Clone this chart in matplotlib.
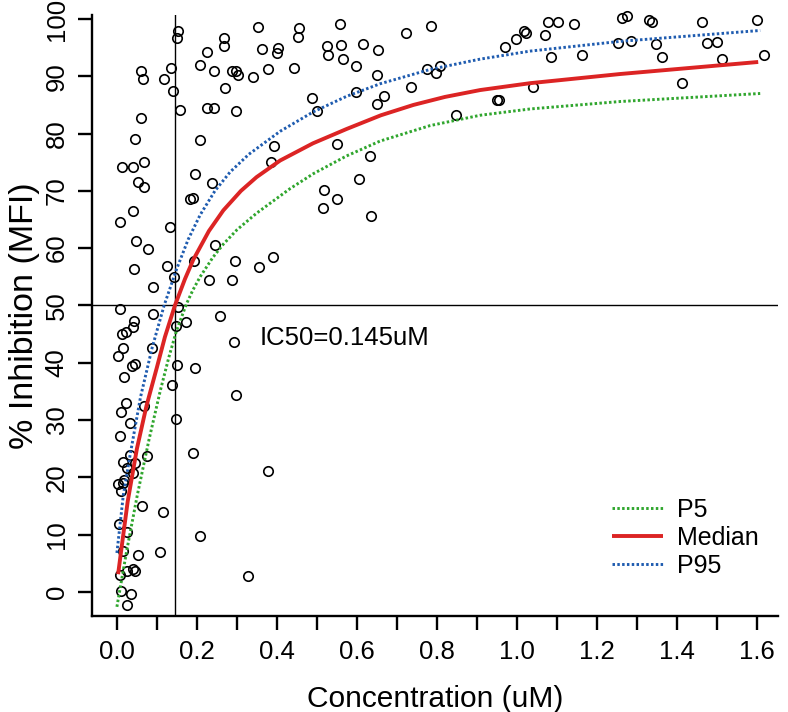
import matplotlib
matplotlib.use("Agg")
import matplotlib.pyplot as plt
from matplotlib.ticker import FixedLocator

plt.rcParams['font.family'] = ['Liberation Sans', 'DejaVu Sans']

# ---------------- data ----------------
conc = [0.153, 0.151, 0.352, 0.267, 0.267, 0.224, 0.363, 0.403, 0.400, 0.061,
        0.066, 0.136, 0.117, 0.207, 0.243, 0.287, 0.297, 0.303, 0.339, 0.378,
        0.139, 0.269, 0.061, 0.157, 0.224, 0.243, 0.297, 0.044, 0.207, 0.392,
        0.012, 0.041, 0.067, 0.385, 0.053, 0.067, 0.194, 0.237, 0.182, 0.190,
        0.041, 0.008, 0.132, 0.047, 0.078, 0.244, 0.192, 0.043, 0.124, 0.294,
        0.390, 0.355, 0.143, 0.230, 0.287, 0.091, 0.008, 0.089, 0.153, 0.258,
        0.043, 0.012, 0.023, 0.041, 0.173, 0.148, 0.293, 0.016, 0.003, 0.088,
        0.037, 0.045, 0.149, 0.194, 0.018, 0.138, 0.297, 0.022, 0.011, 0.068,
        0.032, 0.148, 0.008, 0.033, 0.075, 0.016, 0.045, 0.024, 0.039, 0.190,
        0.378, 0.003, 0.016, 0.010, 0.018, 0.063, 0.114, 0.004, 0.024, 0.208,
        0.016, 0.052, 0.108, 0.008, 0.024, 0.041, 0.045, 0.328, 0.009, 0.034,
        0.026,
        0.455, 0.453, 0.558, 0.526, 0.528, 0.560, 0.566, 0.616, 0.653, 0.443,
        0.598, 0.651, 0.723, 0.784, 0.488, 0.501, 0.597, 0.667, 0.651, 0.734,
        0.774, 0.797, 0.808, 0.847, 0.950, 0.954, 0.970, 0.998, 1.017, 1.022,
        0.551, 0.633, 0.518, 0.551, 0.606, 0.515, 0.635,
        1.078, 1.103, 1.143, 1.070, 1.084, 1.162, 1.041, 1.263, 1.276, 1.252,
        1.285, 1.331, 1.338, 1.348, 1.363, 1.413, 1.463, 1.474, 1.499, 1.513,
        1.599, 1.617]
inhib = [97.9, 96.6, 98.6, 96.6, 95.3, 94.3, 94.7, 94.9, 94.0, 91.0,
         89.5, 91.5, 89.6, 92.0, 91.0, 91.0, 91.0, 90.3, 89.8, 91.2,
         87.5, 88.0, 82.8, 84.2, 84.4, 84.4, 83.9, 79.0, 78.8, 77.9,
         74.1, 74.2, 75.0, 75.0, 71.6, 70.7, 73.0, 71.3, 68.6, 68.8,
         66.5, 64.6, 63.7, 61.3, 59.9, 60.6, 57.8, 56.4, 56.9, 57.8,
         58.5, 56.8, 55.0, 54.5, 54.5, 53.2, 49.4, 48.5, 49.7, 48.2,
         47.3, 45.1, 45.4, 46.2, 47.1, 46.5, 43.6, 42.5, 41.2, 42.6,
         39.5, 39.8, 39.6, 39.0, 37.6, 36.1, 34.3, 32.9, 31.4, 32.4,
         29.4, 30.1, 27.3, 23.9, 23.7, 22.7, 22.5, 21.6, 20.7, 24.2,
         21.1, 18.8, 19.1, 17.7, 19.5, 15.0, 13.9, 11.8, 10.4, 9.7,
         7.2, 6.5, 6.9, 3.0, 3.7, 4.0, 3.7, 2.8, 0.2, -0.3,
         -2.2,
         98.4, 96.9, 99.2, 95.3, 93.7, 95.5, 93.0, 95.6, 94.6, 91.4,
         91.8, 90.3, 97.5, 98.8, 86.3, 84.0, 87.2, 86.6, 85.1, 88.1,
         91.2, 90.6, 91.8, 83.2, 85.9, 85.9, 95.2, 96.5, 97.9, 97.5,
         78.1, 76.1, 70.2, 68.6, 72.1, 67.1, 65.7,
         99.4, 99.4, 99.2, 97.2, 93.4, 93.8, 88.2, 100.1, 100.5, 95.9,
         96.2, 99.8, 99.4, 95.6, 93.4, 88.8, 99.4, 95.8, 96.0, 93.0,
         99.8, 93.7]

median_x = [0.003, 0.015, 0.027, 0.050, 0.074, 0.100, 0.120, 0.145, 0.170, 0.191,
            0.230, 0.266, 0.310, 0.349, 0.408, 0.490, 0.574, 0.660, 0.741, 0.820,
            0.908, 1.033, 1.258, 1.603]
median_y = [3.1, 9.5, 15.8, 25.0, 32.5, 39.2, 44.5, 50.0, 54.6, 58.0,
            63.0, 66.6, 70.0, 72.4, 75.3, 78.3, 80.8, 83.2, 85.0, 86.4,
            87.6, 88.8, 90.4, 92.5]

p95_x = [0.000, 0.016, 0.033, 0.059, 0.088, 0.118, 0.149, 0.178, 0.208, 0.245,
         0.283, 0.330, 0.408, 0.491, 0.574, 0.658, 0.783, 0.908, 1.033, 1.258,
         1.608]
p95_y = [6.8, 16.9, 23.9, 34.0, 42.6, 50.0, 56.3, 61.5, 65.8, 70.0,
         73.3, 76.4, 80.4, 83.8, 86.5, 88.7, 91.2, 93.0, 94.4, 96.1,
         98.0]

p5_x = [0.000, 0.024, 0.051, 0.080, 0.108, 0.130, 0.149, 0.174, 0.190, 0.208,
        0.240, 0.266, 0.300, 0.349, 0.433, 0.491, 0.574, 0.658, 0.783, 0.908,
        1.033, 1.258, 1.608]
p5_y = [-2.6, 7.0, 16.9, 26.5, 35.0, 41.0, 45.6, 50.3, 52.7, 55.0,
        58.4, 60.7, 63.2, 66.1, 70.4, 73.0, 76.1, 78.7, 81.4, 83.2,
        84.3, 85.6, 87.0]

ic50 = 0.145
half = 50
x_ticks = [0.0, 0.2, 0.4, 0.6, 0.8, 1.0, 1.2, 1.4, 1.6]
x_tick_labels = ["0.0", "0.2", "0.4", "0.6", "0.8", "1.0", "1.2", "1.4", "1.6"]
x_minor = [0.1, 0.3, 0.5, 0.7, 0.9, 1.1, 1.3, 1.5]
y_ticks = [0, 10, 20, 30, 40, 50, 60, 70, 80, 90, 100]
series_names = ["P5", "Median", "P95"]

# ---------------- figure ----------------
W, H = 788, 712
fig = plt.figure(figsize=(W / 100, H / 100), dpi=100)
L, R, T, B = 91.7, 778, 15, 616
ax = fig.add_axes([L / W, (H - B) / H, (R - L) / W, (B - T) / H])

ax.set_xlim(-0.063, 1.6525)
ax.set_ylim(-4.2, 100.7)

RED = "#DC2424"
GREEN = "#30A62E"
BLUE = "#1F5CB0"
dot = (0, (0.85, 0.8))

ax.axhline(half, color="black", lw=1.0, zorder=1)
ax.axvline(ic50, color="black", lw=1.0, zorder=1)

ax.plot(conc, inhib, linestyle="none", marker="o", ms=6.8, mfc="none",
        mec="black", mew=1.2, clip_on=False, zorder=3)

l5, = ax.plot(p5_x, p5_y, color=GREEN, lw=2.1, linestyle=dot, zorder=4)
lm, = ax.plot(median_x, median_y, color=RED, lw=2.8, zorder=4,
              solid_capstyle="butt", solid_joinstyle="round")
l95, = ax.plot(p95_x, p95_y, color=BLUE, lw=2.1, linestyle=dot, zorder=4)

ax.text(0.3575, 43.1, "IC50=0.145uM", fontsize=18.5, ha="left", va="baseline")

leg = ax.legend([l5, lm, l95], series_names, loc="upper left",
                bbox_to_anchor=((612 - L) / (R - L), (B - 497.6) / (B - T)),
                frameon=False, fontsize=18, handlelength=2.04,
                handletextpad=0.56, labelspacing=0.17, borderpad=0,
                borderaxespad=0)

# axes styling (R-like, bty = "l")
for s in ("top", "right"):
    ax.spines[s].set_visible(False)
for s in ("left", "bottom"):
    ax.spines[s].set_linewidth(1.7)

ax.xaxis.set_major_locator(FixedLocator(x_ticks))
ax.set_xticklabels(x_tick_labels)
ax.xaxis.set_minor_locator(FixedLocator(x_minor))
ax.yaxis.set_major_locator(FixedLocator(y_ticks))
ax.set_yticklabels([str(v) for v in y_ticks])

ax.tick_params(axis="both", which="both", direction="out", length=10,
               width=1.7, color="black")
ax.tick_params(axis="x", which="major", labelsize=18.5, pad=7)
ax.tick_params(axis="y", which="major", labelsize=18.5, pad=6.5, labelrotation=90)
for t in ax.get_yticklabels():
    t.set_verticalalignment("center")

ax.set_xlabel("Concentration (uM)", fontsize=21.5)
ax.xaxis.set_label_coords(0.5, -0.115)
ax.set_ylabel("% Inhibition (MFI)", fontsize=24.5)
ax.yaxis.set_label_coords(-0.075, 0.5)

fig.savefig("out.png", dpi=100)
